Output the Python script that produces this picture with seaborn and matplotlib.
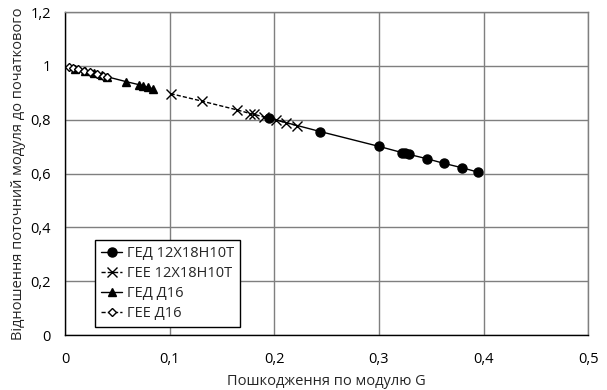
import matplotlib
matplotlib.use("Agg")
import matplotlib.pyplot as plt
import seaborn as sns
import pandas as pd

sns.set_theme(style="white")
plt.rcParams['font.family'] = ['Open Sans', 'DejaVu Sans']

# Data
ged_steel_x = [0.195, 0.244, 0.300, 0.322, 0.325, 0.329, 0.346, 0.362, 0.379, 0.395]
ged_steel_y = [0.806, 0.756, 0.701, 0.678, 0.675, 0.671, 0.655, 0.638, 0.622, 0.605]

gee_steel_x = [0.101, 0.131, 0.164, 0.177, 0.181, 0.190, 0.202, 0.211, 0.222]
gee_steel_y = [0.897, 0.869, 0.837, 0.823, 0.820, 0.810, 0.799, 0.789, 0.778]

ged_d16_x = [0.010, 0.019, 0.028, 0.035, 0.040, 0.058, 0.071, 0.075, 0.079, 0.084]
ged_d16_y = [0.990, 0.981, 0.972, 0.965, 0.960, 0.942, 0.930, 0.925, 0.921, 0.915]

gee_d16_x = [0.004, 0.008, 0.012, 0.018, 0.024, 0.031, 0.036, 0.040]
gee_d16_y = [0.996, 0.992, 0.988, 0.982, 0.976, 0.969, 0.964, 0.960]

series_names = ["ГЕД 12Х18Н10Т", "ГЕЕ 12Х18Н10Т", "ГЕД Д16", "ГЕЕ Д16"]

x_ticks = [0, 0.1, 0.2, 0.3, 0.4, 0.5]
x_tick_labels = ["0", "0,1", "0,2", "0,3", "0,4", "0,5"]
y_ticks = [0, 0.2, 0.4, 0.6, 0.8, 1.0, 1.2]
y_tick_labels = ["0", "0,2", "0,4", "0,6", "0,8", "1", "1,2"]

fig = plt.figure(figsize=(6.07, 3.90), dpi=100)
ax = fig.add_axes([0.107, 0.141, 0.862, 0.828])

styles = [
    dict(marker="o", linestyle="-", markersize=6.5, mfc="black", mec="black"),
    dict(marker="x", linestyle="--", markersize=6.5, mfc="black", mec="black"),
    dict(marker="^", linestyle="-", markersize=5.5, mfc="black", mec="black"),
    dict(marker="D", linestyle="--", markersize=4, mfc="white", mec="black"),
]
data = [(ged_steel_x, ged_steel_y), (gee_steel_x, gee_steel_y),
        (ged_d16_x, ged_d16_y), (gee_d16_x, gee_d16_y)]

for (xs, ys), name, st in zip(data, series_names, styles):
    df = pd.DataFrame({"x": xs, "y": ys})
    sns.lineplot(data=df, x="x", y="y", ax=ax, color="black", linewidth=1.0,
                 label=name, markeredgewidth=1.0,
                 marker=st["marker"], linestyle=st["linestyle"],
                 markersize=st["markersize"], markerfacecolor=st["mfc"],
                 markeredgecolor=st["mec"])
for line, st in zip(ax.get_lines(), styles):
    if st["linestyle"] == "--":
        line.set_dashes([3, 1.5])

ax.set_xlim(0, 0.5)
ax.set_ylim(0, 1.2)
ax.set_xticks(x_ticks)
ax.set_xticklabels(x_tick_labels)
ax.set_yticks(y_ticks)
ax.set_yticklabels(y_tick_labels)
ax.grid(True, color="#7f7f7f", linewidth=1.0)
ax.set_axisbelow(True)
ax.tick_params(axis="x", labelsize=10.5, length=0, pad=12, colors="black")
ax.tick_params(axis="y", labelsize=10.5, length=0, pad=10, colors="black")
ax.set_xlabel("Пошкодження по модулю G", fontsize=10.5, labelpad=5)
ax.set_ylabel("Відношення поточний модуля до початкового", fontsize=10.5, labelpad=3)
for s in ["left", "bottom"]:
    ax.spines[s].set_color("black")
    ax.spines[s].set_linewidth(1.0)
for s in ["top", "right"]:
    ax.spines[s].set_color("#7f7f7f")
    ax.spines[s].set_linewidth(1.0)

leg = ax.legend(loc="lower left", bbox_to_anchor=(0.057, 0.024), fontsize=10.5,
                frameon=True, fancybox=False, edgecolor="black",
                handlelength=1.5, handletextpad=0.3, borderpad=0.4,
                labelspacing=0.35, borderaxespad=0)
leg.get_frame().set_linewidth(1.0)
leg.get_frame().set_alpha(1)

fig.savefig("out.png", dpi=100)
